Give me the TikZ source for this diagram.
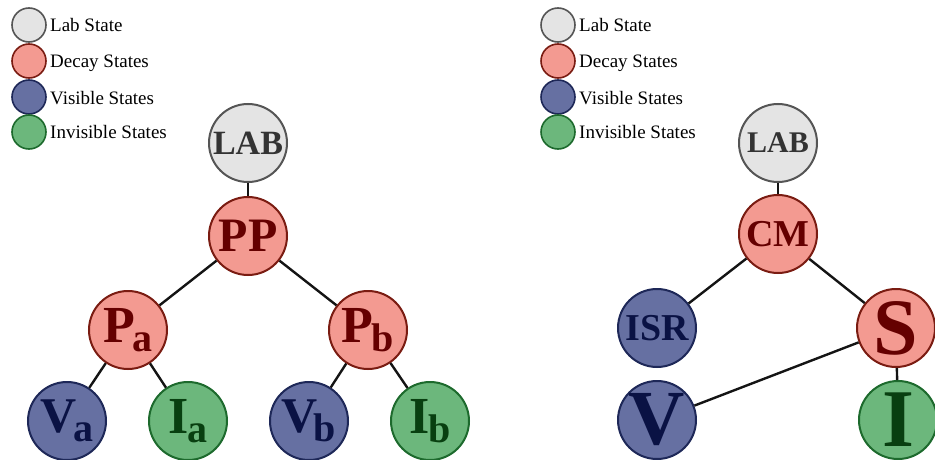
\documentclass[tikz,border=0pt]{standalone}
\usepackage{fontspec}
\setmainfont{Liberation Serif}
\definecolor{labfill}{HTML}{E4E4E4}
\definecolor{labdraw}{HTML}{555555}
\definecolor{labtext}{HTML}{333333}
\definecolor{decfill}{HTML}{F39A91}
\definecolor{decdraw}{HTML}{7A1C12}
\definecolor{dectext}{HTML}{650000}
\definecolor{visfill}{HTML}{6670A2}
\definecolor{visdraw}{HTML}{1E2858}
\definecolor{vistext}{HTML}{0A1244}
\definecolor{invfill}{HTML}{6CB77C}
\definecolor{invdraw}{HTML}{1D6A2D}
\definecolor{invtext}{HTML}{083F10}
\newcommand{\fs}[1]{\fontsize{#1}{#1}\selectfont}
\tikzset{
  x=1pt, y=-1pt,
  st/.style={circle, line width=2pt, minimum size=78pt, inner sep=0pt, font=\bfseries},
  labst/.style={st, fill=labfill, draw=labdraw, text=labtext},
  decst/.style={st, fill=decfill, draw=decdraw, text=dectext},
  visst/.style={st, fill=visfill, draw=visdraw, text=vistext},
  invst/.style={st, fill=invfill, draw=invdraw, text=invtext},
  leg/.style={circle, line width=1.6pt, minimum size=34pt, inner sep=0pt},
  legtext/.style={anchor=base west, inner sep=0pt, font=\fs{19}},
  edge/.style={line width=2.4pt, draw=black!92},
}
\begin{document}
\begin{tikzpicture}
\useasboundingbox (0,0) rectangle (935,460);
% legends
\foreach \dx/\p in {29/l, 558/r}{
  \node[leg, fill=labfill, draw=labdraw] (\p leg1) at (\dx,25) {};
  \node[leg, fill=decfill, draw=decdraw] (\p leg2) at (\dx,61) {};
  \node[leg, fill=visfill, draw=visdraw] (\p leg3) at (\dx,97) {};
  \node[leg, fill=invfill, draw=invdraw] (\p leg4) at (\dx,132) {};
}
\foreach \tx/\p in {50/l, 579/r}{
  \node[legtext] (\p t1) at (\tx,32) {Lab State};
  \node[legtext] (\p t2) at (\tx,67) {Decay States};
  \node[legtext] (\p t3) at (\tx,104) {Visible States};
  \node[legtext] (\p t4) at (\tx,139) {Invisible States};
}
% left tree
\node[labst] (lab) at (248,143) {\fs{34}LAB};
\node[decst] (pp) at (248,236) {\fs{48}PP};
\node[decst] (pa) at (128,330) {{\fs{52}P}\kern-2pt\raisebox{-9pt}{\fs{40}a}};
\node[decst] (pb) at (368,330) {{\fs{52}P}\kern-2pt\raisebox{-9pt}{\fs{40}b}};
\node[visst] (va) at (67,421) {{\fs{50}V}\kern-4pt\raisebox{-9pt}{\fs{40}a}};
\node[invst] (ia) at (188,421) {{\fs{52}I}\kern-1pt\raisebox{-9pt}{\fs{40}a}};
\node[visst] (vb) at (309,421) {{\fs{50}V}\kern-4pt\raisebox{-9pt}{\fs{40}b}};
\node[invst] (ib) at (430,421) {{\fs{52}I}\kern-1pt\raisebox{-9pt}{\fs{40}b}};
\draw[edge] (lab) -- (pp);
\draw[edge] (pp) -- (pa);
\draw[edge] (pp) -- (pb);
\draw[edge] (pa) -- (va);
\draw[edge] (pa) -- (ia);
\draw[edge] (pb) -- (vb);
\draw[edge] (pb) -- (ib);
% right tree
\node[labst] (lab2) at (778,143) {\fs{30}LAB};
\node[decst] (cm) at (778,234) {\fs{38}CM};
\node[visst] (isr) at (657,328) {\fs{38}ISR};
\node[decst] (s) at (896,328) {\fs{80}S};
\node[visst] (v) at (657,420) {\fs{78}V};
\node[invst] (i) at (898,420) {\fs{82}I};
\draw[edge] (lab2) -- (cm);
\draw[edge] (cm) -- (isr);
\draw[edge] (cm) -- (s);
\draw[edge] (s) -- (v);
\draw[edge] (s) -- (i);
\end{tikzpicture}
\end{document}
